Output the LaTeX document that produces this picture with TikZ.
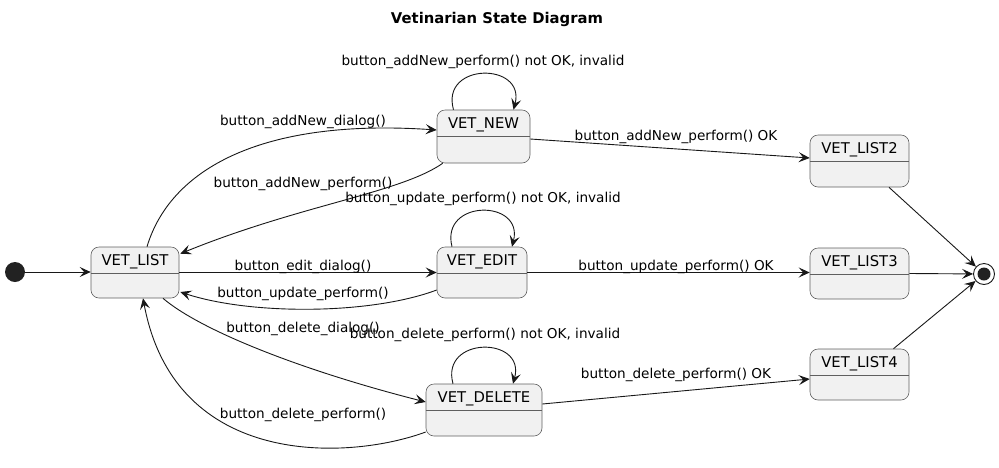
\documentclass[tikz,border=0pt]{standalone}
\usepackage{fontspec}
\setmainfont{DejaVu Sans}
\usetikzlibrary{arrows.meta,calc}
\definecolor{statefill}{HTML}{F1F1F1}
\definecolor{stateline}{HTML}{5F5F5F}
\definecolor{ink}{HTML}{181818}
\definecolor{dot}{HTML}{222222}
\newcommand\mystate[6]{%
  \node[statebox, minimum width=#4pt, minimum height=#5pt] (#1) at (#2,#3) {};
  \node[statetext] (#1-t) at ($(#1.north)+(0,15.5)$) {#6};
  \draw[stateline, line width=0.6pt] ($(#1.north west)+(0,27)$) -- ($(#1.north east)+(0,27)$);
}
\begin{document}
\begin{tikzpicture}[x=1pt,y=-1pt,
  statebox/.style={draw=stateline, fill=statefill, rounded corners=8pt, line width=0.6pt, inner sep=0pt},
  statetext/.style={font=\fontsize{14.8}{16}\selectfont, inner sep=0pt, text=black},
  lbl/.style={font=\fontsize{13.6}{15}\selectfont, inner sep=0pt, text=black},
  edge/.style={draw=ink, line width=0.9pt, -{Stealth[length=11pt,width=10pt,inset=4.5pt]}},
]
\useasboundingbox (0,0) rectangle (999,467);

\node[font=\bfseries\fontsize{14.8}{16}\selectfont, inner sep=0pt] (title) at (497,19.5) {Vetinarian State Diagram};

\mystate{list}{135}{272.5}{88}{51}{VET\_LIST}
\mystate{new}{483.5}{136.5}{93}{53}{VET\_NEW}
\mystate{edit}{482}{272.5}{90}{51}{VET\_EDIT}
\mystate{del}{484}{410}{116}{52}{VET\_DELETE}
\mystate{l2}{859.5}{161}{99}{52}{VET\_LIST2}
\mystate{l3}{859.5}{273.5}{99}{51}{VET\_LIST3}
\mystate{l4}{859.5}{374.5}{99}{51}{VET\_LIST4}

\node[circle, fill=dot, minimum size=20pt, inner sep=0pt] (init) at (15,272) {};
\node[circle, draw=ink, fill=white, line width=0.9pt, minimum size=21pt, inner sep=0pt] (fin) at (984,274) {};
\node[circle, fill=dot, minimum size=13pt, inner sep=0pt] (finin) at (fin) {};

\draw[edge] (init) -- (list.west |- init);
\draw[edge] ($(list.north)+(12,0)$) .. controls (170,170) and (260,118) .. ($(new.west)+(0,-6.5)$);
\draw[edge] ($(new.south west)+(6,0)$) .. controls (400,193) and (300,205) .. ($(list.north east)+(1,7)$);
\draw[edge] ($(new.north)+(-30,0)$) .. controls (440,62) and (526,62) .. ($(new.north)+(30,0)$);
\draw[edge] ($(new.east)+(0,2.5)$) -- ($(l2.west)+(0,-3)$);
\draw[edge] (list.east) -- (edit.west);
\draw[edge] ($(edit.west)+(0,17.5)$) .. controls (370,315) and (250,315) .. ($(list.east)+(1,19.5)$);
\draw[edge] ($(edit.north)+(-30,0)$) .. controls (440,199) and (524,199) .. ($(edit.north)+(30,0)$);
\draw[edge] (edit.east) -- (edit.east -| l3.west);
\draw[edge] ($(list.south)+(28,0)$) .. controls (200,330) and (300,370) .. ($(del.west)+(0,-8)$);
\draw[edge] ($(del.west)+(0,22)$) .. controls (350,460) and (175,470) .. ($(list.south)+(8,0)$);
\draw[edge] ($(del.north)+(-31,0)$) .. controls (440,336) and (526,336) .. ($(del.north)+(29,0)$);
\draw[edge] ($(del.east)+(0,-6)$) -- ($(l4.west)+(0,4.5)$);
\draw[edge] ($(l2.south)+(29.5,0)$) -- (fin);
\draw[edge] (l3.east) -- (fin);
\draw[edge] ($(l4.north)+(34,0)$) -- (fin);

\node[lbl] (e1) at (303,121.5) {button\_addNew\_dialog()};
\node[lbl] (e2) at (303,183.5) {button\_addNew\_perform()};
\node[lbl] (e3) at (483,61.5) {button\_addNew\_perform() not OK, invalid};
\node[lbl] (e4) at (676,136.5) {button\_addNew\_perform() OK};
\node[lbl] (e5) at (303,266.5) {button\_edit\_dialog()};
\node[lbl] (e6) at (303,293.5) {button\_update\_perform()};
\node[lbl] (e7) at (483,198.5) {button\_update\_perform() not OK, invalid};
\node[lbl] (e8) at (676,266.5) {button\_update\_perform() OK};
\node[lbl] (e9) at (303,328.5) {button\_delete\_dialog()};
\node[lbl] (e10) at (303,414.5) {button\_delete\_perform()};
\node[lbl] (e11) at (485,334.5) {button\_delete\_perform() not OK, invalid};
\node[lbl] (e12) at (676,374.5) {button\_delete\_perform() OK};
\end{tikzpicture}
\end{document}
